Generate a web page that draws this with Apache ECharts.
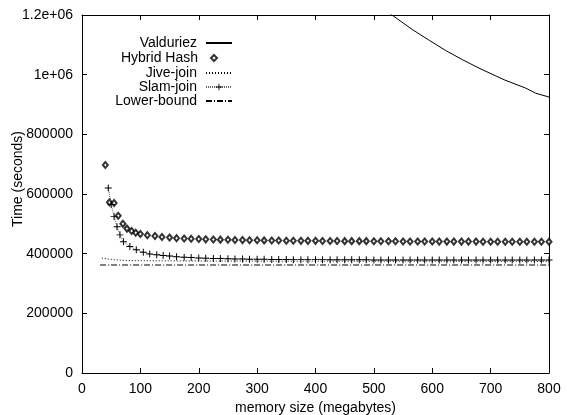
<!DOCTYPE html>
<html>
<head>
<meta charset="utf-8">
<script src="https://cdn.jsdelivr.net/npm/echarts@6/dist/echarts.min.js"></script>
<style>html,body{margin:0;padding:0;background:#fff}#c{width:567px;height:415px}</style>
</head>
<body>
<div id="c"></div>
<script>
var xTicks = [0, 100, 200, 300, 400, 500, 600, 700, 800];
var yTickLabels = ['0', '200000', '400000', '600000', '800000', '1e+06', '1.2e+06'];

var valduriezMem = [500, 531, 566, 595, 623, 652, 680, 723, 760, 777, 800];
var valduriezTime = [1248000, 1200000, 1151000, 1115000, 1081000, 1050000, 1022000, 983000, 955000, 938000, 925000];

var hybridMem = [40, 47, 55, 62, 70, 77, 85, 92, 100, 112, 125, 137, 150, 162, 175, 187, 200, 212, 225, 237, 250, 262, 275, 287, 300, 312, 325, 337, 350, 362, 375, 387, 400, 412, 425, 437, 450, 462, 475, 487, 500, 512, 525, 537, 550, 562, 575, 587, 600, 612, 625, 637, 650, 662, 675, 687, 700, 712, 725, 737, 750, 762, 775, 787, 800];
var hybridTime = [697000, 572000, 570000, 527000, 500000, 484000, 476000, 470000, 466000, 462000, 459000, 456000, 454000, 452000, 451000, 450000, 449000, 448000, 447500, 447000, 446500, 446000, 445500, 445000, 445000, 444500, 444000, 444000, 443500, 443500, 443000, 443000, 443000, 442500, 442500, 442500, 442000, 442000, 442000, 442000, 441500, 441500, 441500, 441500, 441000, 441000, 441000, 441000, 441000, 440500, 440500, 440500, 440500, 440500, 440500, 440000, 440000, 440000, 440000, 440000, 440000, 440000, 440000, 440000, 440000];

var slamMem = [45, 50, 55, 60, 65, 71, 82, 93, 105, 116, 128, 139, 150, 162, 175, 187, 200, 212, 225, 237, 250, 262, 275, 287, 300, 312, 325, 337, 350, 362, 375, 387, 400, 412, 425, 437, 450, 462, 475, 487, 500, 512, 525, 537, 550, 562, 575, 587, 600, 612, 625, 637, 650, 662, 675, 687, 700, 712, 725, 737, 750, 762, 775, 787, 800];
var slamTime = [620000, 565000, 525000, 490000, 463000, 440000, 424000, 413000, 405000, 399000, 396000, 394000, 392000, 390000, 388000, 387000, 385500, 384500, 384000, 383500, 383000, 382500, 382000, 381500, 381000, 381000, 380500, 380500, 380500, 380000, 380000, 380000, 380000, 380000, 379500, 379500, 379500, 379500, 379500, 379500, 379000, 379000, 379000, 379000, 379000, 379000, 379000, 379000, 379000, 378500, 378500, 378500, 378500, 378500, 378500, 378500, 378500, 378500, 378500, 378500, 378500, 378500, 378500, 378500, 378500];

var jiveMem = [34, 45, 60, 77, 100, 150, 200, 300, 400, 500, 600, 700, 800];
var jiveTime = [385000, 382000, 379000, 377000, 376500, 376000, 375500, 375000, 375000, 374500, 374500, 374000, 374000];

var lowerMem = [31, 200, 400, 600, 800];
var lowerTime = [362000, 362000, 362000, 362000, 362000];

function pairs(xs, ys) { return xs.map(function (x, i) { return [x, ys[i]]; }); }

var FONT = "'Liberation Sans', Arial, sans-serif";
var FS = 14;
var plusPath = 'path://M4.3,0H5.7V4.3H10V5.7H5.7V10H4.3V5.7H0V4.3H4.3Z';

function legendItem(name, top, opts) {
  var o = {
    data: [name], orient: 'vertical', align: 'right', right: 334, top: top,
    padding: 0, itemWidth: 26, itemHeight: 8, selectedMode: false,
    itemStyle: { opacity: 0 },
    textStyle: { fontFamily: FONT, fontSize: FS, color: '#000', lineHeight: 14, padding: [0, 4, 0, 0] }
  };
  for (var k in opts) o[k] = opts[k];
  return o;
}

var chart = echarts.init(document.getElementById('c'), null, { renderer: 'canvas' });
function axisCommon() {
  return {
    axisLine: { show: true, onZero: false, lineStyle: { color: '#000', width: 1 } },
    axisTick: { show: true, inside: true, length: 5, lineStyle: { color: '#000' } },
    splitLine: { show: false }
  };
}
chart.setOption({
  animation: false,
  backgroundColor: '#fff',
  grid: { left: 82, right: 18, top: 15, bottom: 42, containLabel: false, outerBoundsMode: 'none' },
  legend: [
    legendItem('Valduriez', 36),
    legendItem('Hybrid Hash', 51, { itemWidth: 6, itemHeight: 6, right: 349, itemStyle: {},
      textStyle: { fontFamily: FONT, fontSize: FS, color: '#000', lineHeight: 14, padding: [0, 8, 0, 0] } }),
    legendItem('Jive-join', 66),
    legendItem('Slam-join', 80, { itemStyle: {} }),
    legendItem('Lower-bound', 94)
  ],
  xAxis: [
    Object.assign(axisCommon(), {
      type: 'value', min: 0, max: 800, interval: 100, position: 'bottom',
      name: 'memory size (megabytes)', nameLocation: 'middle', nameGap: 23,
      nameTextStyle: { fontFamily: FONT, fontSize: FS, color: '#000' },
      axisLabel: { fontFamily: FONT, fontSize: FS, color: '#000', margin: 9 }
    }),
    Object.assign(axisCommon(), {
      type: 'value', min: 0, max: 800, interval: 100, position: 'top',
      axisLabel: { show: false }
    })
  ],
  yAxis: [
    Object.assign(axisCommon(), {
      type: 'value', min: 0, max: 1200000, interval: 200000, position: 'left',
      axisLabel: {
        fontFamily: FONT, fontSize: FS, color: '#000', margin: 9,
        formatter: function (v) { return yTickLabels[Math.round(v / 200000)]; }
      }
    }),
    Object.assign(axisCommon(), {
      type: 'value', min: 0, max: 1200000, interval: 200000, position: 'right',
      axisLabel: { show: false }
    })
  ],
  graphic: [{
    type: 'text', x: 18, y: 179, rotation: Math.PI / 2,
    style: { text: 'Time (seconds)', fontFamily: FONT, fontSize: FS, fill: '#000', align: 'center', verticalAlign: 'middle' }
  }],
  series: [
    {
      name: 'Valduriez', type: 'line', data: pairs(valduriezMem, valduriezTime),
      symbol: 'none', clip: true, lineStyle: { color: '#000', width: 1 }, itemStyle: { color: '#000' }
    },
    {
      name: 'Hybrid Hash', type: 'scatter', data: pairs(hybridMem, hybridTime),
      symbol: 'emptyDiamond', symbolSize: [5, 6],
      itemStyle: { color: '#000', borderColor: '#000', borderWidth: 0.8 }
    },
    {
      name: 'Jive-join', type: 'line', data: pairs(jiveMem, jiveTime),
      symbol: 'none', lineStyle: { color: '#000', width: 1, type: [1, 2] }, itemStyle: { color: '#000' }
    },
    {
      name: 'Slam-join', type: 'line', data: pairs(slamMem, slamTime),
      symbol: plusPath, symbolSize: 7, showAllSymbol: true,
      lineStyle: { color: '#666', width: 1, type: [1, 1] }, itemStyle: { color: '#000', borderWidth: 0 }
    },
    {
      name: 'Lower-bound', type: 'line', data: pairs(lowerMem, lowerTime),
      symbol: 'none', lineStyle: { color: '#000', width: 1, type: [6, 2, 1, 2] }, itemStyle: { color: '#000' }
    }
  ]
});
</script>
</body>
</html>
